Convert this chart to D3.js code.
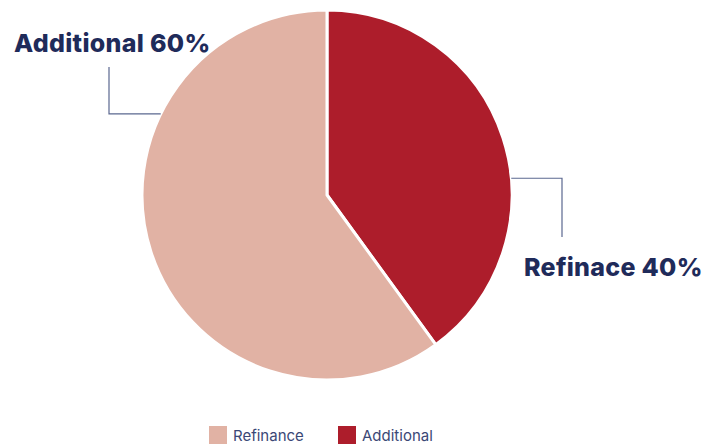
<!DOCTYPE html>
<html>
<head>
<meta charset="utf-8">
<script src="https://cdn.jsdelivr.net/npm/d3@7"></script>
<style>
  body { margin: 0; background: #fff; }
  svg { display: block; font-family: Inter, "Open Sans", sans-serif; }
</style>
</head>
<body>
<svg id="chart" width="715" height="444"></svg>
<script>
// slice data, clockwise from 12 o'clock
const sliceKeys = ['dark', 'light'];
const sliceValues = [40, 60];
const sliceLabels = ['Refinace 40%', 'Additional 60%'];

// legend entries
const legendNames = ['Refinance', 'Additional'];
const legendKeys = ['light', 'dark'];

const colors = { light: '#e1b2a4', dark: '#ad1d2b' };

const svg = d3.select('#chart');
const cx = 327, cy = 195, radius = 185;

const g = svg.append('g').attr('transform', `translate(${cx},${cy})`);

const pie = d3.pie().sort(null).value(d => d.value);
const arc = d3.arc().innerRadius(0).outerRadius(radius);

const arcs = pie(sliceValues.map((v, i) => ({ key: sliceKeys[i], value: v, label: sliceLabels[i] })));

g.selectAll('path')
    .data(arcs)
    .enter().append('path')
    .attr('d', arc)
    .attr('fill', d => colors[d.data.key])
    .attr('stroke', '#fff')
    .attr('stroke-width', 3)
    .attr('stroke-linejoin', 'round');

// leader lines + labels (angle where the line meets the pie, in degrees)
const leaders = [
    { angle: 84.8, elbowX: 562 - cx, endY: 237 - cy, text: sliceLabels[0], tx: 524 - cx, ty: 276 - cy },
    { angle: 296, elbowX: 109 - cx, endY: 67 - cy, text: sliceLabels[1], tx: 14 - cx, ty: 52 - cy }
];

leaders.forEach(l => {
    const a = l.angle * Math.PI / 180;
    const px = radius * Math.sin(a);
    const py = -radius * Math.cos(a);
    g.append('polyline')
        .attr('points', `${px},${py} ${l.elbowX},${py} ${l.elbowX},${l.endY}`)
        .attr('fill', 'none')
        .attr('stroke', '#5b6890')
        .attr('stroke-width', 1.2);
    g.append('text')
        .attr('x', l.tx)
        .attr('y', l.ty)
        .attr('font-size', '25px')
        .attr('font-weight', 800)
        .attr('fill', '#1f2b5a')
        .attr('letter-spacing', '0.3px')
        .text(l.text);
});

// legend
const legend = svg.append('g').attr('transform', 'translate(209,426)');
const legendX = d3.scalePoint().domain(legendNames).range([0, 129]);

const item = legend.selectAll('g')
    .data(legendNames)
    .enter().append('g')
    .attr('transform', d => `translate(${legendX(d)},0)`);

item.append('rect')
    .attr('width', 18)
    .attr('height', 18)
    .attr('fill', (d, i) => colors[legendKeys[i]]);

item.append('text')
    .attr('x', 24)
    .attr('y', 15)
    .attr('font-size', '15px')
    .attr('fill', '#3b4876')
    .text(d => d);
</script>
</body>
</html>
